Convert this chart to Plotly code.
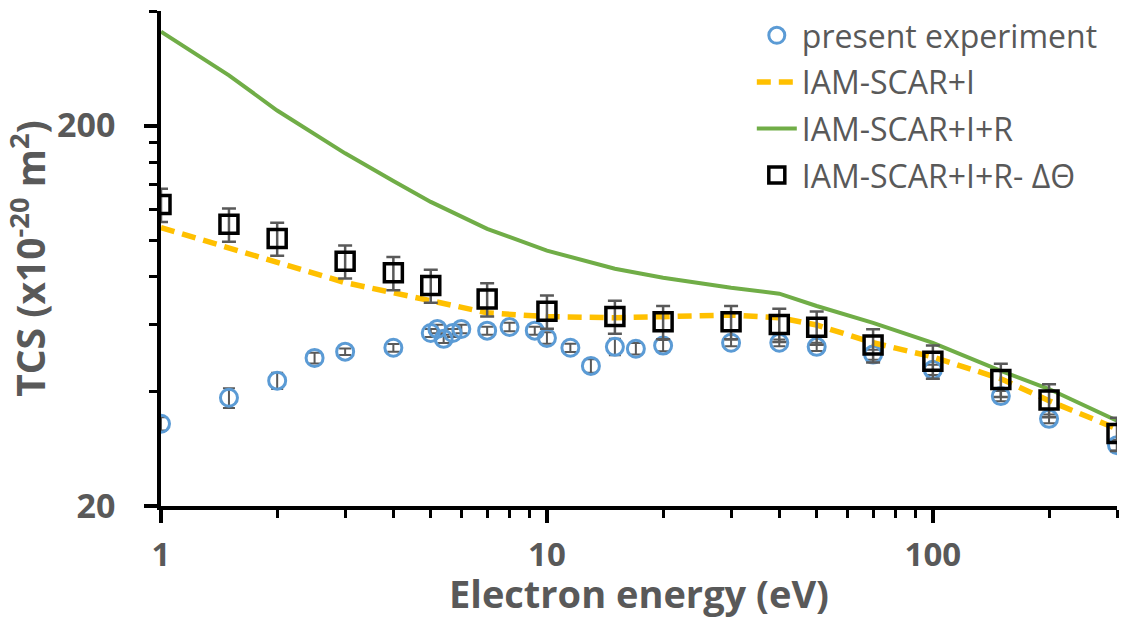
import plotly.graph_objects as go

# ---- data ----
exp_E = [1, 1.5, 2, 2.5, 3, 4, 5.0, 5.2, 5.4, 5.7, 6.0, 7, 8, 9.3, 10, 11.5,
         13, 15, 17, 20, 30, 40, 50, 70, 100, 150, 200, 300]
exp_tcs = [32.9, 38.5, 42.7, 49.0, 50.9, 52.1, 57.0, 58.4, 55.0, 57.0, 58.4,
           57.8, 59.1, 57.8, 55.3, 52.1, 46.7, 52.4, 51.8, 52.8, 53.7, 53.7,
           52.4, 50.0, 45.6, 38.9, 33.9, 28.9]
exp_err = [1.3, 2.3, 2.1, 1.6, 1.0, 1.2, 1.4, 1.5, 1.4, 1.4, 1.5, 1.4, 1.5,
           1.4, 1.9, 1.3, 1.9, 2.6, 1.8, 1.8, 1.1, 1.1, 1.3, 1.5, 1.4, 1.2,
           0.9, 0.9]

th_E = [1, 1.5, 2, 3, 4, 5, 7, 10, 15, 20, 30, 40, 50, 70, 100, 150, 200, 300]
iam_i = [107.8, 95.5, 87.2, 77.3, 72.7, 69.3, 64.4, 62.9, 62.5, 62.9, 63.5,
         62.5, 59.8, 53.7, 49.3, 43.2, 37.8, 31.9]
iam_ir = [353, 271, 219, 169, 143, 126, 107, 93.8, 84.1, 79.6, 74.9, 72.3,
          67.1, 60.6, 53.7, 45.3, 40.6, 33.5]
iam_ir_dt = [124, 110, 101, 88, 82, 76, 70, 65, 63, 61, 61, 60, 59, 53, 48,
             43, 38, 31]
iam_ir_dt_err = [v * 0.10 for v in iam_ir_dt]

x_ticks = [1, 10, 100]
x_minor = [2, 3, 4, 5, 6, 7, 8, 9, 20, 30, 40, 50, 60, 70, 80, 90, 200, 300]
y_ticks = [20, 200]
y_minor = [40, 60, 80, 100, 120, 140, 160, 180, 400]

GRAY = "#595959"
FONT = "Open Sans"

fig = go.Figure()

fig.add_trace(go.Scatter(
    x=exp_E, y=exp_tcs, mode="markers", name="present experiment",
    legendgroup="a",
    marker=dict(symbol="circle-open", size=17, color="#5B9BD5",
                line=dict(width=3, color="#5B9BD5")),
    error_y=dict(type="data", array=exp_err, color=GRAY, thickness=2, width=6),
))
fig.add_trace(go.Scatter(
    x=th_E, y=iam_i, mode="lines", name="IAM-SCAR+I", legendgroup="b",
    line=dict(color="#FFC000", width=5.5, dash="14px,8px"),
))
fig.add_trace(go.Scatter(
    x=th_E, y=iam_ir, mode="lines", name="IAM-SCAR+I+R", legendgroup="c",
    line=dict(color="#70AD47", width=4),
))
fig.add_trace(go.Scatter(
    x=th_E, y=iam_ir_dt, mode="markers", name="IAM-SCAR+I+R- ΔΘ",
    legendgroup="d",
    marker=dict(symbol="square-open", size=18, color="black",
                line=dict(width=3.5, color="black")),
    error_y=dict(type="data", array=iam_ir_dt_err, color=GRAY, thickness=2.5,
                 width=7),
))

fig.update_layout(
    width=1126, height=619,
    margin=dict(l=161, r=9, t=10, b=113),
    paper_bgcolor="white", plot_bgcolor="white",
    font=dict(family=FONT, color=GRAY),
    showlegend=True,
    legend=dict(x=0.618, y=1.004, xanchor="left", yanchor="top",
                font=dict(size=32, color=GRAY, family=FONT),
                bgcolor="rgba(0,0,0,0)", traceorder="grouped",
                tracegroupgap=2, itemwidth=40),
)

fig.update_xaxes(
    type="log", range=[0, 2.4771],
    showline=True, linecolor="black", linewidth=3.5,
    showgrid=False, zeroline=False,
    ticks="outside", ticklen=13, tickwidth=3.5, tickcolor="black",
    tickmode="array", tickvals=x_ticks, ticktext=[str(v) for v in x_ticks],
    tickfont=dict(size=33, family=FONT, color=GRAY, weight="bold"),
    ticklabelstandoff=4,
    minor=dict(tickmode="array", tickvals=x_minor, ticks="outside",
               ticklen=8, tickwidth=3, tickcolor="black", showgrid=False),
    title=dict(text="<b>Electron energy (eV)</b>",
               font=dict(size=38, family=FONT, color=GRAY), standoff=5),
)
fig.update_yaxes(
    type="log", range=[1.30103, 2.60206],
    showline=True, linecolor="black", linewidth=3.5,
    showgrid=False, zeroline=False,
    ticks="outside", ticklen=13, tickwidth=3.5, tickcolor="black",
    tickmode="array", tickvals=y_ticks, ticktext=[str(v) for v in y_ticks],
    tickfont=dict(size=34, family=FONT, color=GRAY, weight="bold"),
    ticklabelstandoff=22,
    minor=dict(tickmode="array", tickvals=y_minor, ticks="outside",
               ticklen=8, tickwidth=3, tickcolor="black", showgrid=False),
    title=dict(text="<b>TCS (x10<sup>-20</sup> m<sup>2</sup>)</b>",
               font=dict(size=39, family=FONT, color=GRAY), standoff=2),
)

fig.write_html("out.html")
